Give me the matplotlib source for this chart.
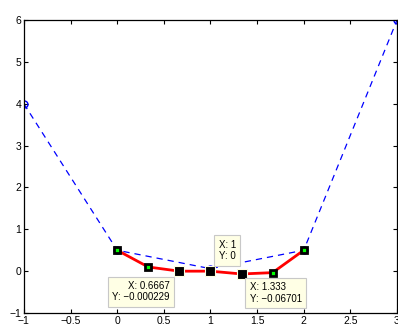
import matplotlib
matplotlib.use("Agg")
import matplotlib.pyplot as plt

plt.rcParams['font.family'] = ['Liberation Sans', 'DejaVu Sans']

x_coarse = [-1, 0, 1, 2, 3]
y_coarse = [4, 0.5, 0.06, 0.5, 6]

x_fine = [0, 1/3, 2/3, 1, 4/3, 5/3, 2]
y_fine = [0.5, 0.1, -0.000229, 0, -0.06701, -0.035, 0.5]

tip_idx = [2, 3, 4]
tip_labels = ["X: 0.6667\nY: \u22120.000229", "X: 1\nY: 0", "X: 1.333\nY: \u22120.06701"]
xticks = [-1, -0.5, 0, 0.5, 1, 1.5, 2, 2.5, 3]
yticks = [-1, 0, 1, 2, 3, 4, 5, 6]

fig = plt.figure(figsize=(3.98, 3.30), dpi=100)
ax = fig.add_axes([0.060, 0.0515, 0.9375, 0.8875])

ax.plot(x_coarse, y_coarse, '--', color='#0000ff', lw=0.9, marker='o',
        markersize=5, markerfacecolor='none', markeredgecolor='#0000ff', dashes=(5, 4))
ax.plot(x_fine, y_fine, '-', color='#ff0000', lw=2, marker='s', markersize=5,
        markerfacecolor='#00ff00', markeredgecolor='black', markeredgewidth=2)

tx = [x_fine[i] for i in tip_idx]
ty = [y_fine[i] for i in tip_idx]
ax.plot(tx, ty, 's', color='black', markersize=7, markeredgecolor='#ffffe0', markeredgewidth=0.8, zorder=5)

bbox = dict(boxstyle='square,pad=0.45', fc='#ffffe5', ec='#c8c8c8', lw=0.8)
ax.annotate(tip_labels[0], (tx[0], ty[0]), xytext=(-7, -7), textcoords='offset points',
            ha='right', va='top', fontsize=7, multialignment='right', bbox=bbox, zorder=6)
ax.annotate(tip_labels[1], (tx[1], ty[1]), xytext=(6, 7), textcoords='offset points',
            ha='left', va='bottom', fontsize=7, multialignment='left', bbox=bbox, zorder=6)
ax.annotate(tip_labels[2], (tx[2], ty[2]), xytext=(6, -6), textcoords='offset points',
            ha='left', va='top', fontsize=7, multialignment='left', bbox=bbox, zorder=6)

ax.set_xlim(-1, 3)
ax.set_ylim(-1, 6)
ax.set_xticks(xticks)
ax.set_yticks(yticks)
ax.set_xticklabels([f"{v:g}".replace('-', '\u2212') for v in xticks])
ax.set_yticklabels([f"{v:g}".replace('-', '\u2212') for v in yticks])
ax.tick_params(direction='in', top=True, right=True, labelsize=7.5, length=3, width=0.8, pad=2)
for s in ax.spines.values():
    s.set_linewidth(0.9)

fig.savefig('out.png', dpi=100)
